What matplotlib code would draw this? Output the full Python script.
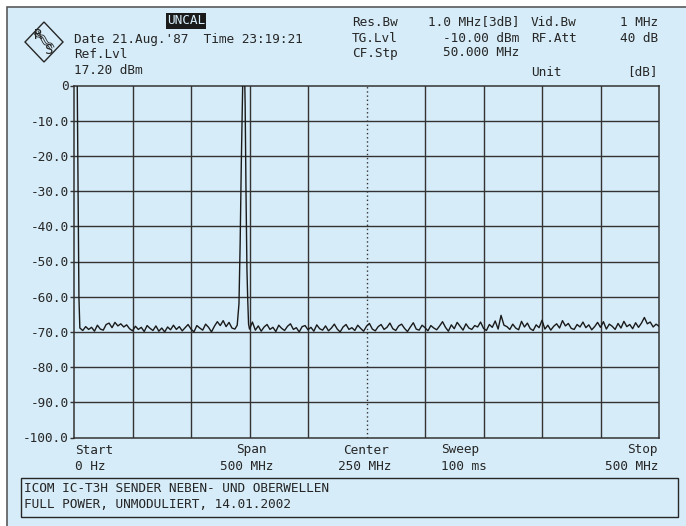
import numpy as np
import matplotlib
matplotlib.use("Agg")
import matplotlib.pyplot as plt
from matplotlib.patches import Rectangle, Polygon

W, H = 686, 526
BG = "#d6ecf8"
INK = "#262626"
FONT = "DejaVu Sans Mono"
FS = 9.2

# sweep settings (MHz / dB)
START, STOP = 0.0, 500.0
REF_TOP, REF_BOTTOM = 0.0, -100.0
Y_TICKS = [0, -10, -20, -30, -40, -50, -60, -70, -80, -90, -100]
Y_LABELS = ["0", "-10.0", "-20.0", "-30.0", "-40.0", "-50.0",
            "-60.0", "-70.0", "-80.0", "-90.0", "-100.0"]

# LO feedthrough at 0 Hz
LO_FREQ = [0.0, 2.5, 3.5, 4.2, 5.0]
LO_LEVEL = [12.0, 12.0, -30.0, -60.0, -68.7]

# carrier near 145 MHz (runs off the top of the screen)
CARRIER_FREQ = [137.5, 139.5, 141.0, 142.0, 143.0, 144.0, 144.6,
                145.6, 146.3, 147.0, 147.8, 148.5, 149.2]
CARRIER_LEVEL = [-69.2, -68.1, -62.0, -45.0, -22.0, -4.0, 8.0,
                 8.0, -6.0, -30.0, -52.0, -61.0, -67.8]

# noise floor readings, 2.5 MHz apart
NOISE_STEP = 2.5
NOISE_LOW_START = 5.0
NOISE_LOW = [
    -68.9, -69.6, -68.5, -69.3, -68.7, -69.8, -68.1, -69.2, -69.5, -67.9,
    -67.5, -68.8, -67.3, -68.3, -67.7, -68.6, -68.0, -69.1, -69.7, -68.4,
    -69.3, -68.7, -69.9, -68.2, -69.0, -69.6, -68.3, -69.8, -68.9, -70.0,
    -68.6, -69.4, -68.1, -69.3, -68.5, -69.7, -68.8, -67.9, -69.2, -70.0,
    -68.2, -68.9, -69.5, -67.8, -68.7, -70.0, -68.4, -67.1, -68.2, -66.8,
    -68.5, -67.3, -68.9, -69.2,
]
NOISE_HIGH_START = 150.0
NOISE_HIGH = [
    -69.2, -67.2, -69.5, -68.3, -69.8, -68.6, -67.9, -69.3, -68.7, -69.9,
    -68.1, -69.0, -69.6, -68.4, -67.7, -69.3, -68.8, -70.0, -68.5, -68.2,
    -69.4, -68.7, -69.8, -68.0, -69.1, -69.5, -68.3, -69.7, -68.9, -67.8,
    -69.2, -70.0, -68.6, -67.9, -69.3, -68.8, -69.6, -68.1, -69.0, -69.8,
    -68.4, -67.6, -69.2, -69.7, -68.5, -67.9, -69.3, -68.7, -67.5, -69.1,
    -69.6, -68.3, -67.8, -69.0, -69.9, -68.6, -67.4, -69.2, -69.5, -68.1,
    -68.8, -69.7, -68.2, -68.9, -69.4, -68.3, -67.1, -68.7, -69.8, -68.0,
    -69.1, -67.3, -68.4, -69.5, -67.7, -68.9, -69.3, -68.2, -68.6, -67.2,
    -69.0, -69.6, -67.9, -68.7, -66.9, -69.2, -65.3, -68.1, -68.5, -69.3,
    -67.8, -68.9, -69.4, -67.0, -68.6, -67.5, -69.1, -69.6, -68.0, -68.8,
    -66.7, -69.2, -68.1, -69.5, -68.4, -67.7, -68.9, -66.8, -68.3, -67.6,
    -69.0, -69.3, -67.9, -68.6, -67.2, -68.8, -68.0, -69.4, -68.5, -67.3,
    -68.7, -67.1, -69.2, -67.8, -68.4, -69.3, -67.6, -68.9, -67.0, -68.5,
    -67.9, -69.1, -67.4, -68.7, -67.5, -65.9, -67.7, -67.2, -68.6, -67.8,
    -68.4,
]


def fx(px):
    return px / W


def fy(py):
    return 1 - py / H


def label(x, y, s, ha="left"):
    fig.text(fx(x), fy(y), s, ha=ha, va="center", family=FONT,
             fontsize=FS, color=INK)


fig = plt.figure(figsize=(W / 100, H / 100), dpi=100, facecolor="white")

# screen background with its frame, kept behind the axes
fig.patches.append(Rectangle((fx(7), fy(H + 5)), fx(W), fy(7) - fy(H + 5),
                             transform=fig.transFigure, facecolor=BG,
                             edgecolor="#5a5a5a", lw=1.2, zorder=-5))

ax = fig.add_axes([fx(74), fy(437.5), fx(585), (437.5 - 85.5) / H])
ax.set_facecolor(BG)
ax.set_xlim(START, STOP)
ax.set_ylim(REF_BOTTOM, REF_TOP)

# graticule, dotted line at centre frequency
for f in np.linspace(START, STOP, 11)[1:-1]:
    ls = (0, (1, 2)) if f == 250 else "-"
    ax.axvline(f, color="#333333", lw=1.0, ls=ls, zorder=1)
for lv in Y_TICKS[1:-1]:
    ax.axhline(lv, color="#333333", lw=1.0, zorder=1)
for sp in ax.spines.values():
    sp.set_color("#333333")
    sp.set_linewidth(1.1)

ax.set_xticks([])
ax.set_yticks(Y_TICKS)
ax.set_yticklabels(Y_LABELS, family=FONT, fontsize=FS, color=INK)
ax.tick_params(axis="y", length=3, width=1, color="#333333", pad=1)

# trace
noise_low_f = NOISE_LOW_START + NOISE_STEP * np.arange(len(NOISE_LOW))
noise_high_f = NOISE_HIGH_START + NOISE_STEP * np.arange(len(NOISE_HIGH))
freq = np.concatenate([LO_FREQ, noise_low_f, CARRIER_FREQ, noise_high_f])
level = np.concatenate([LO_LEVEL, NOISE_LOW, CARRIER_LEVEL, NOISE_HIGH])
order = np.argsort(freq, kind="stable")
ax.plot(freq[order], level[order], color="#1a1a1a", lw=1.0, zorder=3)

# R&S logo
fig.patches.append(Polygon([(fx(44), fy(22)), (fx(63), fy(42)),
                            (fx(44), fy(62)), (fx(25), fy(42))],
                           closed=True, transform=fig.transFigure,
                           facecolor="none", edgecolor=INK, lw=1.0))
t = np.linspace(0, 1, 30)
for k in range(3):
    xs = 34 + 16 * t + k * 2
    ys = 33 + 16 * t - k * 1 + 1.2 * np.sin(t * 4 * np.pi)
    fig.lines.append(plt.Line2D(fx(xs), fy(ys), transform=fig.transFigure,
                                color=INK, lw=0.6))
fig.text(fx(38), fy(35), "R", ha="center", va="center", family=FONT,
         fontsize=10, color=INK)
fig.text(fx(49), fy(50), "S", ha="center", va="center", family=FONT,
         fontsize=10, color=INK)

# header
fig.text(fx(186), fy(21), "UNCAL", ha="center", va="center", family=FONT,
         fontsize=FS, color=BG,
         bbox=dict(boxstyle="square,pad=0.1", facecolor="#1a1a1a",
                   edgecolor="none"))
label(74, 39, "Date 21.Aug.'87  Time 23:19:21")
label(74, 54, "Ref.Lvl")
label(74, 71, "17.20 dBm")

label(352, 22, "Res.Bw")
label(352, 38, "TG.Lvl")
label(352, 53, "CF.Stp")
label(519, 22, "1.0 MHz[3dB]", ha="right")
label(519, 38, "-10.00 dBm", ha="right")
label(519, 53, "50.000 MHz", ha="right")
label(531, 22, "Vid.Bw")
label(531, 38, "RF.Att")
label(531, 72, "Unit")
label(658, 22, "1 MHz", ha="right")
label(658, 38, "40 dB", ha="right")
label(658, 72, "[dB]", ha="right")

# footer
label(75, 450, "Start")
label(75, 466, "0 Hz")
label(251, 450, "Span", ha="center")
label(247, 466, "500 MHz", ha="center")
label(366, 450, "Center", ha="center")
label(365, 466, "250 MHz", ha="center")
label(441, 450, "Sweep")
label(441, 466, "100 ms")
label(658, 450, "Stop", ha="right")
label(658, 466, "500 MHz", ha="right")

fig.patches.append(Rectangle((fx(21), fy(517)), fx(678 - 21), fy(478) - fy(517),
                             transform=fig.transFigure, facecolor="none",
                             edgecolor=INK, lw=1.0))
label(24, 488, "ICOM IC-T3H SENDER NEBEN- UND OBERWELLEN")
label(24, 505, "FULL POWER, UNMODULIERT, 14.01.2002")

fig.savefig("out.png", dpi=100, facecolor="white")
